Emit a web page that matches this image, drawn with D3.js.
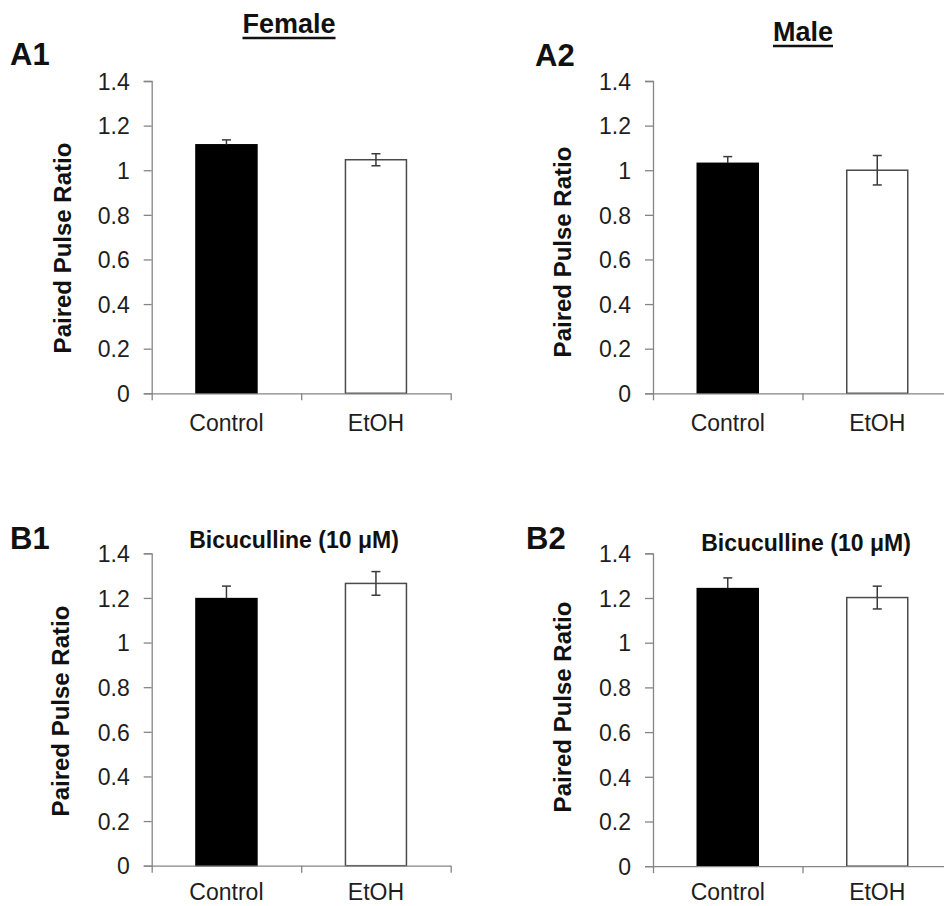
<!DOCTYPE html>
<html>
<head>
<meta charset="utf-8">
<script src="https://cdn.jsdelivr.net/npm/d3@7"></script>
<style>
  html, body { margin: 0; padding: 0; background: #fff; }
  svg { display: block; }
  text { font-family: "Liberation Sans", Arial, sans-serif; }
</style>
</head>
<body>
<svg id="chart" width="944" height="906"></svg>
<script>
// ---- Data ----
const categories = ["Control", "EtOH"];
const yTicks = [0, 0.2, 0.4, 0.6, 0.8, 1, 1.2, 1.4];

const femaleMeans = [1.114, 1.047];
const femaleErrors = [0.022, 0.027];

const maleMeans = [1.031, 1.0];
const maleErrors = [0.030, 0.066];

const femaleBicMeans = [1.197, 1.265];
const femaleBicErrors = [0.056, 0.053];

const maleBicMeans = [1.242, 1.202];
const maleBicErrors = [0.048, 0.051];

const panelLabels = ["A1", "A2", "B1", "B2"];
const panelTitles = ["Female", "Male", "Bicuculline (10 \u03BCM)", "Bicuculline (10 \u03BCM)"];
const yAxisTitle = "Paired Pulse Ratio";
const barFills = ["#000000", "#ffffff"];

// ---- Layout ----
const svg = d3.select("#chart");
const axisColor = "#858585";
const panels = [
  { means: femaleMeans, errs: femaleErrors, x0: 151.7, yTop: 81, yZero: 393.3, catDy: 37.5,
    label: { x: 10, y: 65 }, title: { x: 289, y: 33, underline: true, size: 27 },
    yt: { x: 71, y: 248 } },
  { means: maleMeans, errs: maleErrors, x0: 653, yTop: 81, yZero: 393.3, catDy: 37.5,
    label: { x: 535, y: 66 }, title: { x: 803, y: 41, underline: true, size: 27 },
    yt: { x: 571, y: 252 } },
  { means: femaleBicMeans, errs: femaleBicErrors, x0: 151.7, yTop: 553.3, yZero: 865.7, catDy: 34,
    label: { x: 10, y: 549 }, title: { x: 294, y: 548, underline: false, size: 23 },
    yt: { x: 68.5, y: 711 } },
  { means: maleBicMeans, errs: maleBicErrors, x0: 653, yTop: 553.3, yZero: 866.2, catDy: 33.5,
    label: { x: 526, y: 549 }, title: { x: 806, y: 551, underline: false, size: 23 },
    yt: { x: 571, y: 707 } }
];
const axisW = 299;

panels.forEach((p, i) => {
  const g = svg.append("g");
  const y = d3.scaleLinear().domain([0, 1.4]).range([p.yZero, p.yTop]);
  const x = d3.scaleBand().domain(categories).range([p.x0, p.x0 + axisW]).paddingInner(0.592).paddingOuter(0.296);
  const xEdges = d3.scaleLinear().domain([0, categories.length]).range([p.x0, p.x0 + axisW]);

  // Bars
  g.selectAll("rect.bar").data(categories).join("rect")
    .attr("class", "bar")
    .attr("x", d => x(d))
    .attr("width", x.bandwidth())
    .attr("y", (d, j) => y(p.means[j]))
    .attr("height", (d, j) => y(0) - y(p.means[j]))
    .attr("fill", (d, j) => barFills[j])
    .attr("stroke", (d, j) => j === 0 ? "#000" : "#4a4a4a")
    .attr("stroke-width", 1.5);

  // Y axis
  const yAxis = d3.axisLeft(y).tickValues(yTicks).tickSize(8).tickPadding(14)
    .tickFormat(d3.format("~g"));
  const ya = g.append("g").attr("transform", `translate(${p.x0},0)`).call(yAxis);
  ya.select(".domain").attr("stroke", axisColor).attr("stroke-width", 1.3);
  ya.selectAll(".tick line").attr("stroke", axisColor).attr("stroke-width", 1.3);
  ya.selectAll(".tick text").attr("font-size", 23).attr("fill", "#1e1e1e")
    .attr("font-family", "'Liberation Sans', Arial, sans-serif").attr("dy", "0.36em");

  // X axis (ticks at category boundaries)
  const xAxis = d3.axisBottom(xEdges).tickValues(d3.range(categories.length + 1))
    .tickSize(7).tickSizeOuter(0).tickFormat("");
  const xa = g.append("g").attr("transform", `translate(0,${p.yZero})`).call(xAxis);
  xa.select(".domain").attr("stroke", axisColor).attr("stroke-width", 1.3);
  xa.selectAll(".tick line").attr("stroke", axisColor).attr("stroke-width", 1.3);

  // Category labels
  g.selectAll("text.cat").data(categories).join("text")
    .attr("class", "cat")
    .attr("x", d => x(d) + x.bandwidth() / 2)
    .attr("y", p.yZero + p.catDy)
    .attr("text-anchor", "middle")
    .attr("font-size", 23)
    .attr("fill", "#1e1e1e")
    .text(d => d);

  // Error bars (lower half hidden inside the black bar, as in the original)
  const capW = 9;
  const eb = g.selectAll("g.err").data(categories).join("g").attr("class", "err")
    .attr("stroke-width", 1.5);
  const cx = d => x(d) + x.bandwidth() / 2;
  eb.append("line")
    .attr("stroke", "#3a3a3a")
    .attr("x1", cx).attr("x2", cx)
    .attr("y1", (d, j) => y(p.means[j])).attr("y2", (d, j) => y(p.means[j] + p.errs[j]));
  eb.append("line")
    .attr("stroke", (d, j) => j === 0 ? "#000" : "#3a3a3a")
    .attr("x1", cx).attr("x2", cx)
    .attr("y1", (d, j) => y(p.means[j] - p.errs[j])).attr("y2", (d, j) => y(p.means[j]));
  eb.append("line")
    .attr("stroke", "#3a3a3a")
    .attr("x1", d => cx(d) - capW / 2).attr("x2", d => cx(d) + capW / 2)
    .attr("y1", (d, j) => y(p.means[j] + p.errs[j])).attr("y2", (d, j) => y(p.means[j] + p.errs[j]));
  eb.append("line")
    .attr("stroke", (d, j) => j === 0 ? "#000" : "#3a3a3a")
    .attr("x1", d => cx(d) - capW / 2).attr("x2", d => cx(d) + capW / 2)
    .attr("y1", (d, j) => y(p.means[j] - p.errs[j])).attr("y2", (d, j) => y(p.means[j] - p.errs[j]));

  // Y axis title
  svg.append("text")
    .attr("transform", `translate(${p.yt.x},${p.yt.y}) rotate(-90)`)
    .attr("text-anchor", "middle")
    .attr("font-size", 24)
    .attr("font-weight", "bold")
    .attr("fill", "#111")
    .text(yAxisTitle);

  // Panel label
  svg.append("text")
    .attr("x", p.label.x).attr("y", p.label.y)
    .attr("font-size", 31).attr("font-weight", "bold").attr("fill", "#111")
    .text(panelLabels[i]);

  // Panel title
  const t = svg.append("text")
    .attr("x", p.title.x).attr("y", p.title.y)
    .attr("text-anchor", "middle")
    .attr("font-size", p.title.size).attr("font-weight", "bold").attr("fill", "#111")
    .text(panelTitles[i]);
  if (p.title.underline) {
    const w = t.node().getComputedTextLength();
    svg.append("line")
      .attr("x1", p.title.x - w / 2).attr("x2", p.title.x + w / 2)
      .attr("y1", p.title.y + 5).attr("y2", p.title.y + 5)
      .attr("stroke", "#111").attr("stroke-width", 2.6);
  }
});
</script>
</body>
</html>
